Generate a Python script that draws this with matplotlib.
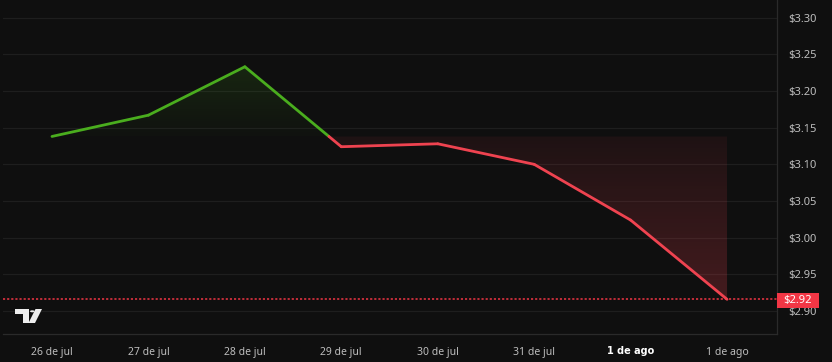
import numpy as np
import matplotlib
matplotlib.use("Agg")
import matplotlib.pyplot as plt
from matplotlib.patches import Polygon, Rectangle, Circle

# ---- data ----
labels = ["26 de jul", "27 de jul", "28 de jul", "29 de jul", "30 de jul", "31 de jul", "1 de ago", "1 de ago"]
bold_labels = [False, False, False, False, False, False, True, False]
prices = [3.138, 3.167, 3.233, 3.124, 3.128, 3.100, 3.024, 2.916]
yticks = [2.90, 2.95, 3.00, 3.05, 3.10, 3.15, 3.20, 3.25, 3.30]
last_label = "$2.92"

BG = "#0f0f0f"
GRID = "#1e1e1e"
GREEN = "#4aad1e"
RED = "#ef4350"
TXT = "#bdbdbd"

plt.rcParams['font.family'] = ['Noto Sans', 'DejaVu Sans']

W, H = 832, 362
fig = plt.figure(figsize=(W / 100, H / 100), dpi=100, facecolor=BG)
left_px, right_px, bottom_px = 3, 777, 334
ax = fig.add_axes([left_px / W, (H - bottom_px) / H, (right_px - left_px) / W, bottom_px / H])
ax.set_facecolor(BG)

x = np.arange(len(prices), dtype=float)
y = np.array(prices)
base = y[0]

ax.set_xlim(-0.508, 7.518)
ax.set_ylim(2.8687, 3.324)

# grid
for t in yticks:
    ax.axhline(t, color=GRID, lw=0.9, zorder=0)

# densify line to split at baseline crossings
xs = [x[0]]
ys = [y[0]]
for i in range(len(x) - 1):
    y0, y1 = y[i] - base, y[i + 1] - base
    if y0 * y1 < 0:
        t = y0 / (y0 - y1)
        xs.append(x[i] + t * (x[i + 1] - x[i]))
        ys.append(base)
    xs.append(x[i + 1])
    ys.append(y[i + 1])
xs = np.array(xs)
ys = np.array(ys)

# gradient fills
def grad_fill(mask_above, color_rgb, a_top, a_bottom, ylo, yhi):
    verts = [(xs[0], base)]
    for xx, yy in zip(xs, ys):
        if mask_above:
            verts.append((xx, max(yy, base)))
        else:
            verts.append((xx, min(yy, base)))
    verts.append((xs[-1], base))
    poly = Polygon(verts, closed=True, facecolor="none", edgecolor="none")
    ax.add_patch(poly)
    n = 256
    alphas = np.linspace(a_bottom, a_top, n).reshape(n, 1)
    img = np.zeros((n, 1, 4))
    img[..., 0] = color_rgb[0]
    img[..., 1] = color_rgb[1]
    img[..., 2] = color_rgb[2]
    img[..., 3] = alphas
    im = ax.imshow(img, extent=[xs[0], xs[-1], ylo, yhi], origin="lower",
                   aspect="auto", zorder=1, interpolation="bilinear")
    im.set_clip_path(poly)

grad_fill(True, (0.29, 0.68, 0.12), 0.15, 0.02, base, y.max())
grad_fill(False, (0.94, 0.26, 0.31), 0.07, 0.24, y.min(), base)

# line segments
for i in range(len(xs) - 1):
    mid = (ys[i] + ys[i + 1]) / 2
    c = GREEN if mid >= base else RED
    ax.plot(xs[i:i + 2], ys[i:i + 2], color=c, lw=2.0, solid_capstyle="round", zorder=3)

# last price dotted line
ax.axhline(y[-1], color="#f23645", lw=1.1, ls=(0, (1.4, 1.3)), zorder=2)

# axes styling
for s in ["top", "left"]:
    ax.spines[s].set_visible(False)
for s in ["right", "bottom"]:
    ax.spines[s].set_color("#2a2a2a")
    ax.spines[s].set_linewidth(0.9)

ax.yaxis.tick_right()
ax.set_yticks(yticks)
ax.set_yticklabels([f"${t:.2f}" for t in yticks])
ax.tick_params(axis="y", length=0, pad=8, labelsize=8, colors=TXT)
ax.set_xticks(x)
ax.set_xticklabels(labels)
ax.tick_params(axis="x", length=0, pad=9, labelsize=7.5, colors=TXT)
for lab, b in zip(ax.get_xticklabels(), bold_labels):
    if b:
        lab.set_family("DejaVu Sans")
        lab.set_fontweight("bold")
        lab.set_fontsize(7)
        lab.set_color("#ffffff")

# last price label box
fig.patches.append(Rectangle((777 / W, (H - 307.5) / H), 42 / W, 15 / H,
                             transform=fig.transFigure, facecolor="#f23645",
                             edgecolor="none", zorder=5))
fig.text(798 / W, (H - 300) / H, last_label, color="white", fontsize=8,
         ha="center", va="center", zorder=6)

# TradingView-style logo drawn from pixel coordinates
def fp(px, py):
    return (px / W, (H - py) / H)

logo_col = "#eeeeee"
t_shape = [fp(15, 309), fp(29, 309), fp(29, 323), fp(22.5, 323), fp(22.5, 314), fp(15, 314)]
slash = [fp(35.5, 309), fp(42, 309), fp(35, 323), fp(28.5, 323)]
for shp in (t_shape, slash):
    fig.patches.append(Polygon(shp, closed=True, transform=fig.transFigure,
                               facecolor=logo_col, edgecolor="none", zorder=6))
fig.patches.append(Circle(fp(32.3, 311.3), 2.3 / W, transform=fig.transFigure,
                          facecolor=logo_col, edgecolor="none", zorder=6))

fig.savefig("out.png", dpi=100, facecolor=BG)
